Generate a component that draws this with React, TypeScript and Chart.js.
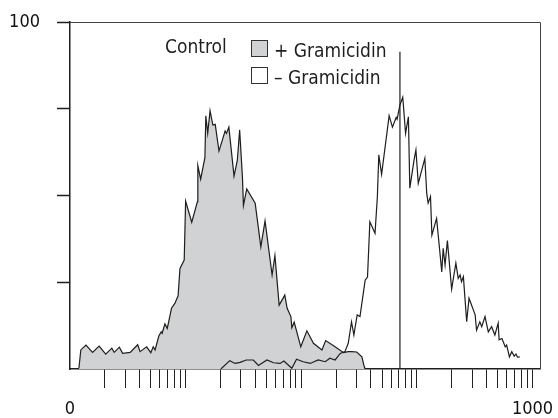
import React, { useEffect, useRef } from "react";
import { Chart, registerables } from "chart.js";

Chart.register(...registerables);

// Channel numbers (0–1000, 4-decade log amplifier) and event counts (% of max)
const grayX = [19,23,34,48,62,76,89,94,105,112,128,144,149,163,172,177,181,189,194,196,202,207,213,216,223,230,234,243,246,259,271,272,278,287,289,293,298,304,309,317,330,333,338,349,356,361,367,369,376,394,406,415,430,436,445,457,462,470,472,477,491,504,518,536,544,564,582,592,599,610,621,626,628];
const grayY = [0.2,5.5,6.9,4.8,6.6,4.3,6.0,4.8,6.3,4.5,4.8,7.0,5.0,6.4,4.7,6.4,5.5,9.5,10.7,10.3,13.0,11.7,15.6,17.5,18.9,21.1,29.0,31.4,48.4,42.3,48.2,58.6,54.7,60.9,73.0,67.9,74.4,70.3,70.5,62.8,68.6,67.9,69.7,55.6,60.1,68.9,55.0,47.1,51.9,47.8,35.2,42.7,27.1,32.7,18.4,21.3,17.5,15.1,11.9,13.5,6.4,11.0,7.4,5.5,8.2,6.4,4.7,5.0,5.0,4.9,3.5,0.7,0];

const whiteX = [321,340,351,362,375,390,401,419,433,447,455,472,482,496,511,528,543,553,564,575,585,592,599,604,611,617,624,628,633,638,649,654,657,663,679,686,694,696,702,708,714,720,723,732,736,741,755,759,762,767,770,780,791,794,798,803,812,821,826,830,833,837,844,849,862,865,872,876,883,890,897,904,911,913,919,926,929,935,940,945,949,952,957];
const whiteY = [0,2.4,1.6,1.9,2.6,2.6,1.0,2.6,1.8,1.6,2.3,0.2,2.8,2.1,1.6,2.6,2.1,3.1,2.6,4.5,5.0,7.4,13.6,9.8,15.6,15.1,21.8,25.6,26.5,42.4,39.1,49.7,61.7,56.1,73.0,69.7,72.5,72.0,76.1,78.3,67.9,72.7,52.1,60.2,63.1,53.5,60.7,50.6,47.8,49.7,38.6,43.4,28.0,34.8,30.0,37.0,23.0,30.5,26.1,27.1,25.2,26.6,13.6,20.4,15.6,11.2,13.6,12.2,15.1,10.7,12.2,9.8,13.2,8.4,8.8,6.4,6.9,3.5,5.0,3.7,4.3,3.4,3.5];

const markerX = [702, 702];
const markerY = [0, 91.4];

// axis definitions
const channelsPerDecade = 246;
const decades = [0, 1, 2, 3];
const decadeMultipliers = [2, 3, 4, 5, 6, 7, 8, 9, 10];
const xEndLabels = ["0", "1000"];
const yTicks = [25, 50, 75, 100];
const yLabels: Record<number, string> = { 100: "100" };

const legendTitle = "Control";
const legendItems = ["+ Gramicidin", "\u2013 Gramicidin"];

const FONT = "'DejaVu Sans Condensed', 'Liberation Sans Narrow', sans-serif";
const GRAY = "#d1d2d4";
const INK = "#1e1e1e";

const xTicks: number[] = [0];
decades.forEach((d) =>
  decadeMultipliers.forEach((m) => xTicks.push(channelsPerDecade * (d + Math.log10(m))))
);

const toPts = (xs: number[], ys: number[]) => xs.map((x, i) => ({ x, y: ys[i] }));

const overlay = {
  id: "overlay",
  afterDraw(chart: any) {
    const { ctx, chartArea } = chart;
    const { left, top, right, bottom } = chartArea;
    ctx.save();
    // top & right frame
    ctx.strokeStyle = "#444";
    ctx.lineWidth = 1;
    ctx.beginPath();
    ctx.moveTo(left, top + 0.5);
    ctx.lineTo(right + 0.5, top + 0.5);
    ctx.lineTo(right + 0.5, bottom);
    ctx.stroke();

    // legend
    ctx.font = `19px ${FONT}`;
    ctx.fillStyle = INK;
    ctx.textBaseline = "alphabetic";
    ctx.textAlign = "left";
    ctx.fillText(legendTitle, 165, 53);
    const boxX = 251, boxS = 17;
    const rows = [40, 67];
    const fills = [GRAY, "#ffffff"];
    rows.forEach((ry, i) => {
      ctx.fillStyle = fills[i];
      ctx.fillRect(boxX, ry, boxS, boxS);
      ctx.strokeStyle = "#333";
      ctx.lineWidth = 1;
      ctx.strokeRect(boxX + 0.5, ry + 0.5, boxS - 1, boxS - 1);
      ctx.fillStyle = INK;
      ctx.fillText(legendItems[i], 274, ry + 16.5);
    });
    ctx.restore();
  },
};

export default function App() {
  const ref = useRef<HTMLCanvasElement | null>(null);
  useEffect(() => {
    document.body.style.margin = "0";
    const canvas = ref.current!;
    const chart = new Chart(canvas, {
      type: "line",
      data: {
        datasets: [
          {
            label: "marker",
            data: toPts(markerX, markerY),
            borderColor: INK,
            borderWidth: 1.2,
            pointRadius: 0,
            fill: false,
            order: 1,
          },
          {
            label: "- Gramicidin",
            data: toPts(whiteX, whiteY),
            borderColor: INK,
            borderWidth: 1.2,
            pointRadius: 0,
            fill: false,
            tension: 0,
            order: 2,
          },
          {
            label: "+ Gramicidin",
            data: toPts(grayX, grayY),
            borderColor: INK,
            backgroundColor: GRAY,
            borderWidth: 1.2,
            pointRadius: 0,
            fill: "origin",
            tension: 0,
            order: 3,
          },
        ],
      },
      options: {
        responsive: false,
        animation: false,
        layout: { padding: { top: 22, right: 18, left: 0, bottom: 0 } },
        plugins: { legend: { display: false }, tooltip: { enabled: false } },
        scales: {
          x: {
            type: "linear",
            min: 0,
            max: 1000,
            afterBuildTicks: (s: any) => {
              s.ticks = xTicks.map((v) => ({ value: v }));
            },
            afterFit: (s: any) => {
              s.height = 49;
              s.paddingLeft = 0;
              s.paddingRight = 0;
              s.paddingTop = 0;
              s.paddingBottom = 0;
            },
            grid: {
              drawOnChartArea: false,
              drawTicks: true,
              tickLength: 19,
              tickWidth: 1,
              tickColor: (c: any) => (c.index === 0 ? "rgba(0,0,0,0)" : "#222"),
            },
            border: { display: true, color: INK, width: 1.5 },
            ticks: {
              autoSkip: false,
              maxRotation: 0,
              minRotation: 0,
              padding: 11,
              color: "#111",
              font: { family: FONT, size: 18 },
              callback: (_v: any, i: number) =>
                i === 0 ? xEndLabels[0] : i === xTicks.length - 1 ? xEndLabels[1] : "",
            },
          },
          y: {
            type: "linear",
            min: 0,
            max: 100,
            afterBuildTicks: (s: any) => {
              s.ticks = yTicks.map((v) => ({ value: v }));
            },
            afterFit: (s: any) => {
              s.width = 70;
              s.paddingLeft = 0;
              s.paddingRight = 0;
              s.paddingTop = 0;
              s.paddingBottom = 0;
            },
            grid: {
              drawOnChartArea: false,
              drawTicks: true,
              tickLength: 13,
              tickWidth: 1.5,
              tickColor: INK,
            },
            border: { display: true, color: INK, width: 1.5 },
            ticks: {
              padding: 17,
              color: "#111",
              font: { family: FONT, size: 18 },
              callback: (v: any) => yLabels[v as number] ?? "",
            },
          },
        },
      },
      plugins: [overlay],
    } as any);
    return () => chart.destroy();
  }, []);
  return (
    <div style={{ width: 558, height: 418 }}>
      <canvas ref={ref} width={558} height={418} />
    </div>
  );
}
